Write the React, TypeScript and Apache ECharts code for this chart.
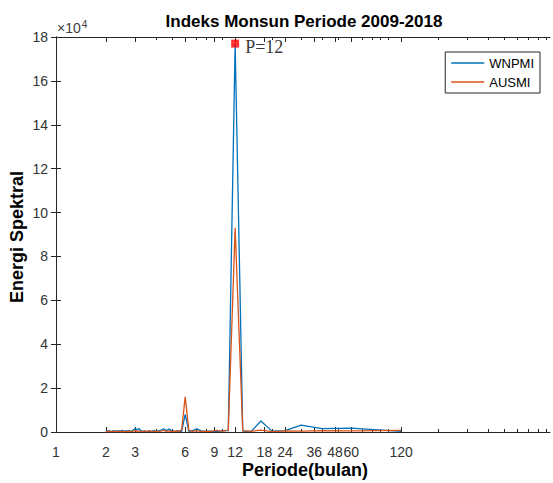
import React, { useEffect, useRef } from "react";
import * as echarts from "echarts";

// Periods (months) of the periodogram, from 2 to 120
const PERIODS = [
  2.0, 2.034, 2.069, 2.105, 2.143, 2.182, 2.222, 2.264, 2.308, 2.353,
  2.4, 2.449, 2.5, 2.553, 2.609, 2.667, 2.727, 2.791, 2.857, 2.927,
  3.0, 3.077, 3.158, 3.243, 3.333, 3.429, 3.529, 3.636, 3.75, 3.871,
  4.0, 4.138, 4.286, 4.444, 4.615, 4.8, 5.0, 5.217, 5.455, 5.714,
  6.0, 6.316, 6.667, 7.059, 7.5, 8.0, 8.571, 9.231, 10.0, 10.909,
  12.0, 13.333, 15.0, 17.143, 20.0, 24.0, 30.0, 40.0, 60.0, 120.0,
];

const WNPMI = [
  200, 500, 300, 600, 200, 400, 700, 300, 500, 200,
  600, 400, 800, 300, 500, 400, 700, 500, 300, 900,
  1700, 900, 1600, 600, 300, 500, 200, 400, 300, 600,
  400, 500, 900, 1500, 700, 1300, 500, 300, 600, 200,
  8000, 300, 600, 1400, 500, 300, 400, 200, 500, 600,
  177000, 400, 300, 5000, 400, 600, 3100, 1500, 1800, 300,
];

const AUSMI = [
  300, 100, 400, 200, 300, 100, 400, 200, 300, 500,
  200, 300, 100, 400, 200, 300, 500, 200, 300, 400,
  600, 300, 500, 200, 300, 400, 200, 600, 300, 200,
  500, 300, 400, 700, 300, 500, 200, 400, 300, 900,
  16000, 800, 300, 600, 200, 400, 300, 700, 400, 900,
  93000, 600, 300, 900, 200, 500, 400, 600, 500, 700,
];

const X_TICK_LABELS = [1, 2, 3, 6, 9, 12, 18, 24, 36, 48, 60, 120];
const X_MINOR_TICKS = [
  2, 3, 4, 5, 6, 7, 8, 9, 10, 20, 30, 40, 50, 60, 70, 80, 90, 100,
  200, 300, 400, 500, 600, 700, 800, 900,
];
const X_MIN = 1;
const X_MAX = 946;
const Y_MAX = 180000;
const Y_INTERVAL = 20000;

const PEAK_PERIOD = 12;
const PEAK_VALUE = 177000;

const BLUE = "#0072BD";
const ORANGE = "#D95319";
const AXIS_COLOR = "#262626";
const TICK_TEXT = "#333333";
const FONT = "'Liberation Sans', Arial, sans-serif";

const lg = (v: number) => Math.log10(v);

export default function App() {
  const ref = useRef<HTMLDivElement>(null);

  useEffect(() => {
    if (!ref.current) return;
    const chart = echarts.init(ref.current, null, { renderer: "svg" });

    const xBase = {
      type: "value" as const,
      min: lg(X_MIN),
      max: lg(X_MAX),
      splitLine: { show: false },
      gridIndex: 0,
    };

    const majorTicks = X_TICK_LABELS.map(lg);
    const minorTicks = X_MINOR_TICKS.map(lg);

    const option: any = {
      animation: false,
      backgroundColor: "#fff",
      grid: { left: 56, right: 3, top: 37, bottom: 51, containLabel: false },
      xAxis: [
        {
          ...xBase,
          position: "bottom",
          axisLine: { show: true, lineStyle: { color: AXIS_COLOR, width: 1 } },
          axisTick: {
            show: true,
            inside: true,
            length: 5,
            customValues: majorTicks,
            lineStyle: { color: AXIS_COLOR },
          },
          axisLabel: {
            show: true,
            customValues: majorTicks,
            formatter: (v: number) => String(Math.round(Math.pow(10, v))),
            color: TICK_TEXT,
            fontSize: 14,
            fontFamily: FONT,
            margin: 13,
            hideOverlap: false,
          },
        },
        {
          ...xBase,
          position: "bottom",
          axisLine: { show: false },
          axisTick: {
            show: true,
            inside: true,
            length: 3,
            customValues: minorTicks,
            lineStyle: { color: AXIS_COLOR },
          },
          axisLabel: { show: false },
        },
        {
          ...xBase,
          position: "top",
          axisLine: { show: true, lineStyle: { color: AXIS_COLOR, width: 1 } },
          axisTick: {
            show: true,
            inside: true,
            length: 5,
            customValues: majorTicks,
            lineStyle: { color: AXIS_COLOR },
          },
          axisLabel: { show: false },
        },
        {
          ...xBase,
          position: "top",
          axisLine: { show: false },
          axisTick: {
            show: true,
            inside: true,
            length: 3,
            customValues: minorTicks,
            lineStyle: { color: AXIS_COLOR },
          },
          axisLabel: { show: false },
        },
      ],
      yAxis: [
        {
          type: "value",
          min: 0,
          max: Y_MAX,
          interval: Y_INTERVAL,
          position: "left",
          splitLine: { show: false },
          axisLine: { show: true, lineStyle: { color: AXIS_COLOR, width: 1 } },
          axisTick: { show: true, inside: true, length: 5, lineStyle: { color: AXIS_COLOR } },
          axisLabel: {
            formatter: (v: number) => String(Math.round(v / 10000)),
            color: TICK_TEXT,
            fontSize: 14,
            fontFamily: FONT,
            margin: 8,
          },
        },
        {
          type: "value",
          min: 0,
          max: Y_MAX,
          interval: Y_INTERVAL,
          position: "right",
          splitLine: { show: false },
          axisLine: { show: true, lineStyle: { color: AXIS_COLOR, width: 1 } },
          axisTick: { show: true, inside: true, length: 5, lineStyle: { color: AXIS_COLOR } },
          axisLabel: { show: false },
        },
      ],
      legend: {
        data: [
          { name: "WNPMI", icon: "rect" },
          { name: "AUSMI", icon: "rect" },
        ],
        orient: "vertical",
        right: 13,
        top: 52,
        itemWidth: 33,
        itemHeight: 1.5,
        itemGap: 5,
        padding: [4, 6, 4, 6],
        borderColor: AXIS_COLOR,
        borderWidth: 1,
        backgroundColor: "#fff",
        textStyle: { color: "#000", fontSize: 13, fontFamily: FONT, lineHeight: 14 },
      },
      series: [
        {
          name: "WNPMI",
          type: "line",
          xAxisIndex: 0,
          yAxisIndex: 0,
          symbol: "none",
          lineStyle: { color: BLUE, width: 1.3 },
          itemStyle: { color: BLUE },
          data: PERIODS.map((p, i) => [lg(p), WNPMI[i]]),
          z: 3,
        },
        {
          name: "AUSMI",
          type: "line",
          xAxisIndex: 0,
          yAxisIndex: 0,
          symbol: "none",
          lineStyle: { color: ORANGE, width: 1.3 },
          itemStyle: { color: ORANGE },
          data: PERIODS.map((p, i) => [lg(p), AUSMI[i]]),
          z: 4,
        },
        {
          name: "peak",
          type: "scatter",
          xAxisIndex: 0,
          yAxisIndex: 0,
          symbol: "rect",
          symbolSize: 8,
          itemStyle: { color: "#FF0000" },
          data: [[lg(PEAK_PERIOD), PEAK_VALUE]],
          label: {
            show: true,
            position: "right",
            distance: 6,
            formatter: "P=" + PEAK_PERIOD,
            fontFamily: "'Liberation Serif', 'Times New Roman', serif",
            fontSize: 18,
            color: "#000",
            offset: [0, 3],
          },
          z: 6,
        },
      ],
      graphic: [
        {
          type: "text",
          x: 304,
          y: 21,
          style: {
            text: "Indeks Monsun Periode 2009-2018",
            fontFamily: FONT,
            fontWeight: "bold",
            fontSize: 17,
            fill: "#000",
            textAlign: "center",
            textVerticalAlign: "middle",
          },
        },
        {
          type: "text",
          x: 305,
          y: 470,
          style: {
            text: "Periode(bulan)",
            fontFamily: FONT,
            fontWeight: "bold",
            fontSize: 18,
            fill: "#000",
            textAlign: "center",
            textVerticalAlign: "middle",
          },
        },
        {
          type: "text",
          x: 17,
          y: 237,
          rotation: Math.PI / 2,
          style: {
            text: "Energi Spektral",
            fontFamily: FONT,
            fontWeight: "bold",
            fontSize: 18,
            fill: "#000",
            textAlign: "center",
            textVerticalAlign: "middle",
          },
        },
        {
          type: "text",
          x: 57,
          y: 19,
          style: {
            text: "{a|×10}{b|4}",
            rich: {
              a: { fontFamily: FONT, fontSize: 14, fill: "#404040", color: "#404040" },
              b: {
                fontFamily: FONT,
                fontSize: 10,
                fill: "#404040",
                color: "#404040",
                verticalAlign: "top",
                padding: [0, 0, 8, 1],
              },
            },
          },
        },
      ],
    };

    chart.setOption(option);
    return () => chart.dispose();
  }, []);

  return (
    <div
      ref={ref}
      style={{ position: "fixed", left: 0, top: 0, width: 553, height: 483 }}
    />
  );
}
